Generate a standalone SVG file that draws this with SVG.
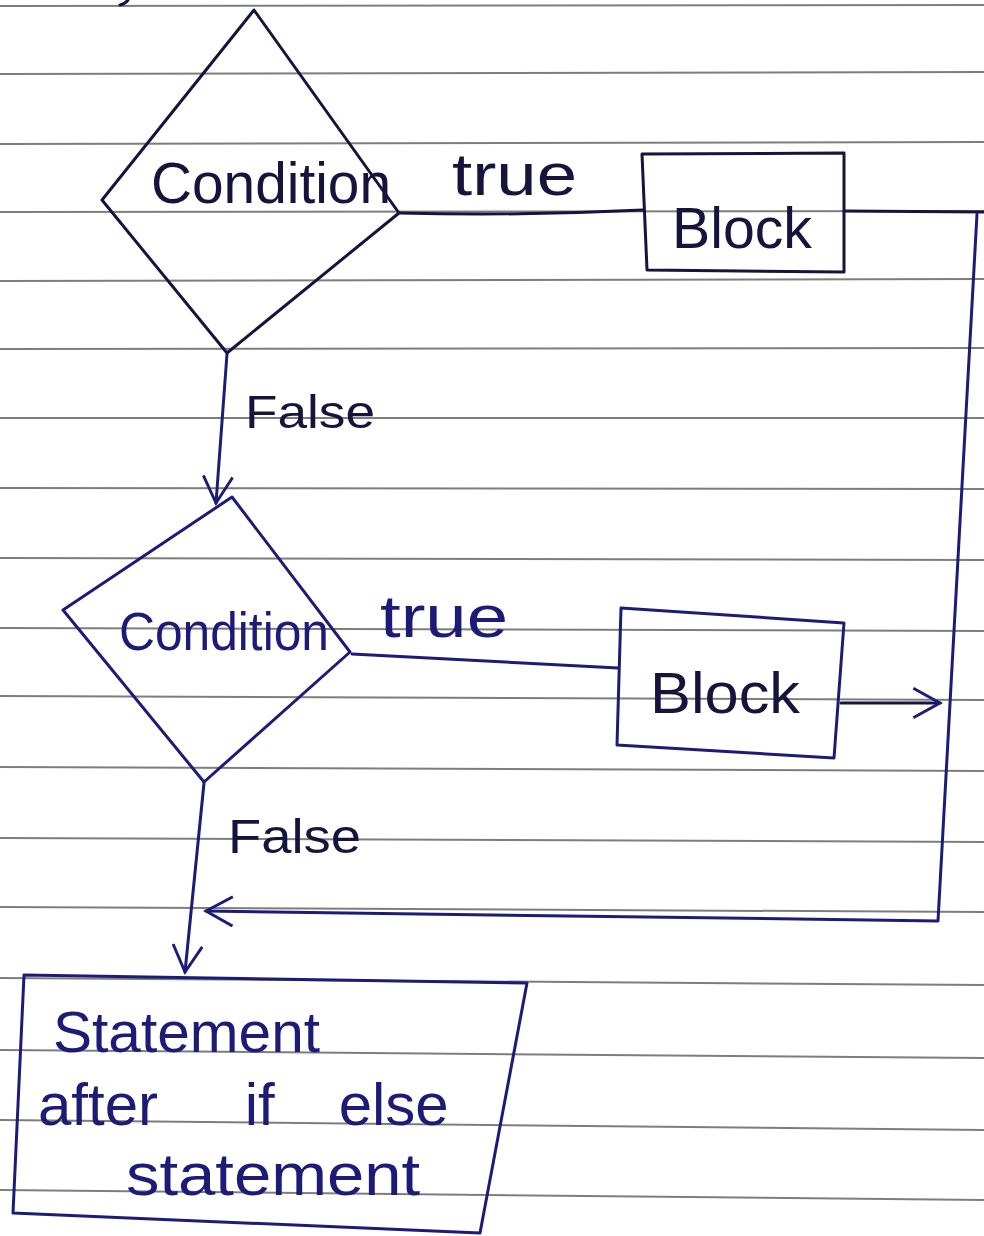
<svg xmlns="http://www.w3.org/2000/svg" width="984" height="1236" viewBox="0 0 984 1236">
<style>
.rule{stroke:#7d7d7d;stroke-width:2;fill:none}
.ink1{stroke:#14143c;stroke-width:3;fill:none;stroke-linejoin:round;stroke-linecap:round}
.ink2{stroke:#1c1c78;stroke-width:3;fill:none;stroke-linejoin:round;stroke-linecap:round}
.t1{font-family:"Liberation Sans","DejaVu Sans",sans-serif;fill:#14143c}
.t2{font-family:"Liberation Sans","DejaVu Sans",sans-serif;fill:#1c1c78}
</style>
<defs>
<marker id="chev1" viewBox="0 0 12 12" refX="11" refY="6" markerWidth="32" markerHeight="32" markerUnits="userSpaceOnUse" orient="auto">
<path d="M1,0.5 L11,6 L1,11.5" fill="none" stroke="#1c1c78" stroke-width="1.1"/>
</marker>
</defs>
<rect width="984" height="1236" fill="#ffffff"/>
<g id="ruled-paper">
<line class="rule" x1="0" y1="6" x2="984" y2="5"/>
<line class="rule" x1="0" y1="74" x2="984" y2="72"/>
<line class="rule" x1="0" y1="144" x2="984" y2="142"/>
<line class="rule" x1="0" y1="212" x2="984" y2="211"/>
<line class="rule" x1="0" y1="281" x2="984" y2="279"/>
<line class="rule" x1="0" y1="349" x2="984" y2="348"/>
<line class="rule" x1="0" y1="418" x2="984" y2="418"/>
<line class="rule" x1="0" y1="488" x2="984" y2="489"/>
<line class="rule" x1="0" y1="558" x2="984" y2="560"/>
<line class="rule" x1="0" y1="628" x2="984" y2="631"/>
<line class="rule" x1="0" y1="696" x2="984" y2="700"/>
<line class="rule" x1="0" y1="767" x2="984" y2="771"/>
<line class="rule" x1="0" y1="838" x2="984" y2="842"/>
<line class="rule" x1="0" y1="907" x2="984" y2="912"/>
<line class="rule" x1="0" y1="978" x2="984" y2="985"/>
<line class="rule" x1="0" y1="1050" x2="984" y2="1058"/>
<line class="rule" x1="0" y1="1120" x2="984" y2="1130"/>
<line class="rule" x1="0" y1="1190" x2="984" y2="1200"/>
</g>
<g id="connectors">
<path class="ink1" d="M128,0 Q125,4 120,5"/>
<path class="ink1" d="M400,213 Q520,216 643,210"/>
<path class="ink1" d="M844,211 L984,212"/>
<path class="ink2" d="M977,214 L938,921 L206,911" marker-end="url(#chev1)"/>
<path class="ink2" d="M227,354 L216,503" marker-end="url(#chev1)"/>
<path class="ink2" d="M352,654 L618,668"/>
<path class="ink1" d="M841,703 L940,703" marker-end="url(#chev1)"/>
<path class="ink2" d="M204,783 L185,972" marker-end="url(#chev1)"/>
</g>
<g id="cond1">
<polygon class="ink1" points="254,10 399,213 227,353 102,200"/>
<text class="t1" x="151" y="203" font-size="58" textLength="240" lengthAdjust="spacingAndGlyphs">Condition</text>
</g>
<g id="label-true1">
<text class="t1" x="452" y="195" font-size="60" textLength="125" lengthAdjust="spacingAndGlyphs">true</text>
</g>
<g id="block1">
<polygon class="ink1" points="642,154 844,153 844,272 647,270"/>
<text class="t1" x="672" y="248" font-size="58" textLength="140" lengthAdjust="spacingAndGlyphs">Block</text>
</g>
<g id="label-false1">
<text class="t1" x="245" y="428" font-size="46" textLength="130" lengthAdjust="spacingAndGlyphs">False</text>
</g>
<g id="cond2">
<polygon class="ink2" points="232,497 350,652 204,782 63,610"/>
<text class="t2" x="119" y="650" font-size="54" textLength="210" lengthAdjust="spacingAndGlyphs">Condition</text>
</g>
<g id="label-true2">
<text class="t2" x="380" y="637" font-size="60" textLength="128" lengthAdjust="spacingAndGlyphs">true</text>
</g>
<g id="block2">
<polygon class="ink2" points="621,608 844,623 834,758 617,745"/>
<text class="t1" x="650" y="713" font-size="58" textLength="150" lengthAdjust="spacingAndGlyphs">Block</text>
</g>
<g id="label-false2">
<text class="t1" x="228" y="853" font-size="48" textLength="133" lengthAdjust="spacingAndGlyphs">False</text>
</g>
<g id="statement">
<polygon class="ink2" points="24,975 527,983 480,1233 13,1213"/>
<text class="t2" x="53" y="1052" font-size="58" textLength="267" lengthAdjust="spacingAndGlyphs">Statement</text>
<text class="t2" y="1125" font-size="60"><tspan x="38">after</tspan><tspan x="228"> if</tspan><tspan x="322"> else</tspan></text>
<text class="t2" x="126" y="1195" font-size="60" textLength="294" lengthAdjust="spacingAndGlyphs">statement</text>
</g>
</svg>
